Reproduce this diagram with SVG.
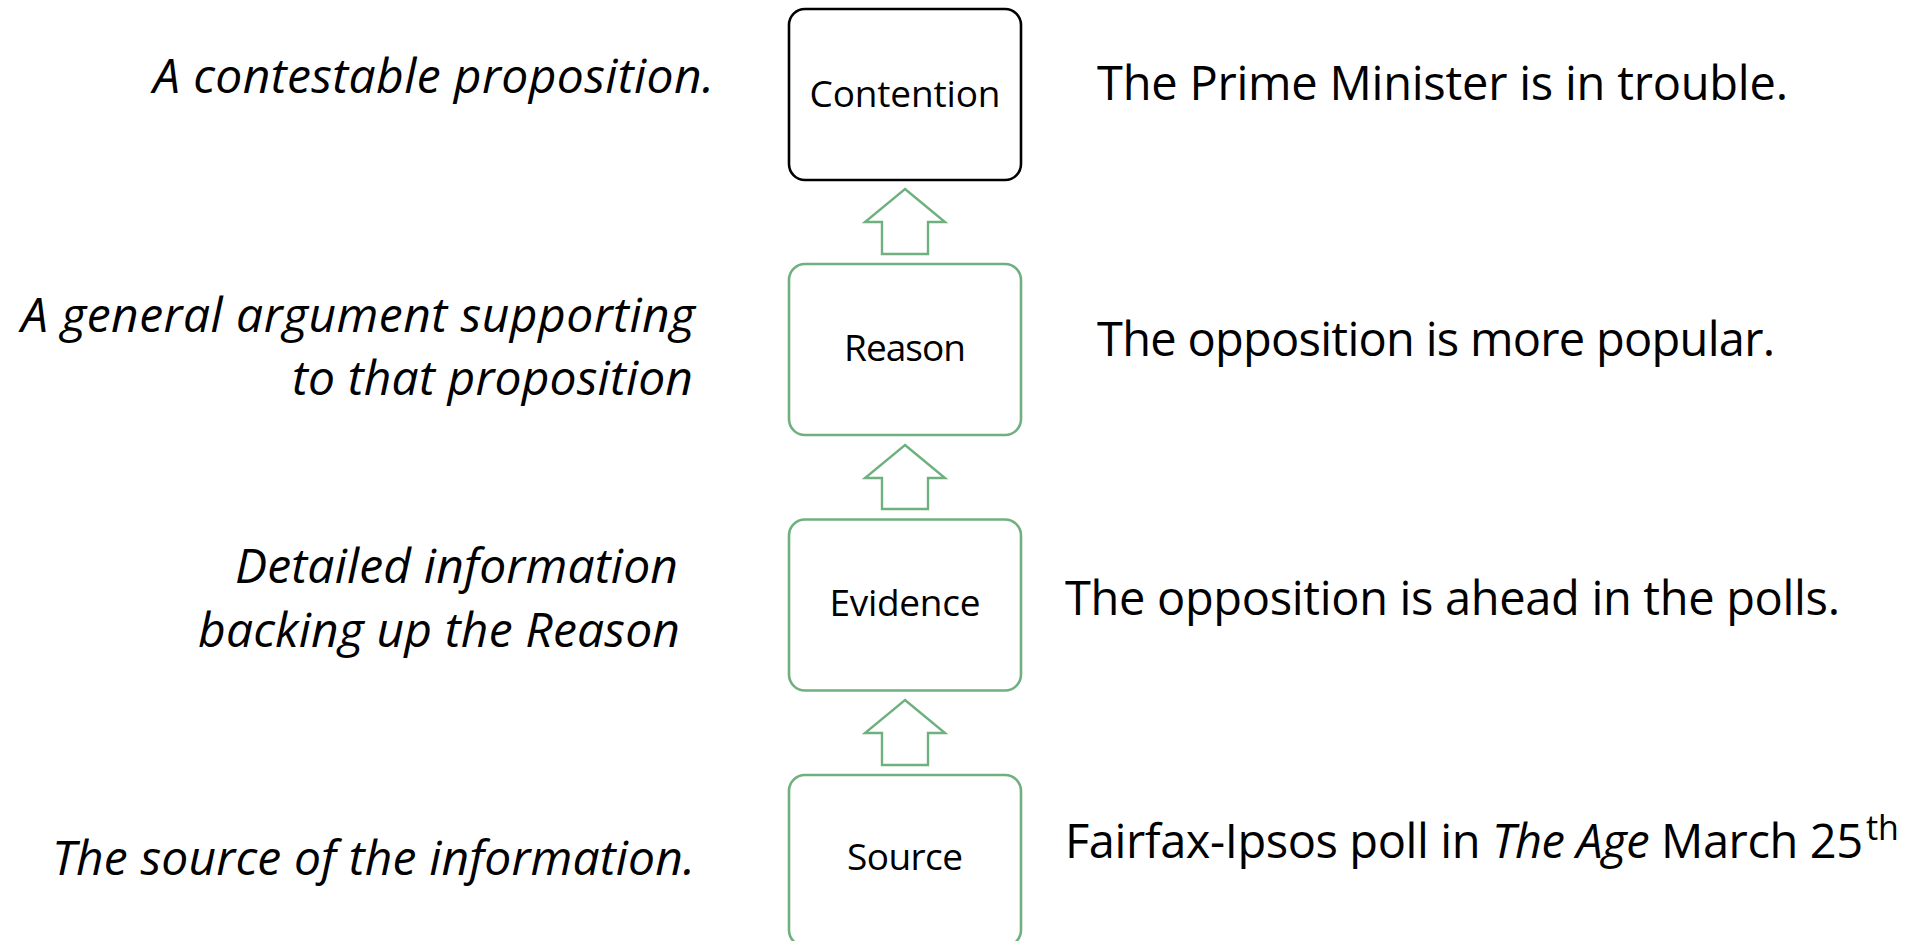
<svg xmlns="http://www.w3.org/2000/svg" width="1924" height="941" viewBox="0 0 1924 941">
<style>
.box{fill:#ffffff;stroke:#6fb07f;stroke-width:2.6}
.box.black{stroke:#000000}
.arrow{fill:#ffffff;stroke:#6fb07f;stroke-width:2.4;stroke-linejoin:miter}
.lbl{font-family:"Open Sans","Noto Sans",sans-serif;font-size:37px;fill:#000;text-anchor:middle}
.note{font-family:"Open Sans","Noto Sans",sans-serif;font-size:48px;font-style:italic;fill:#000;text-anchor:end}
.ex{font-family:"Open Sans","Noto Sans",sans-serif;font-size:47px;fill:#000}
.sup{font-family:"Open Sans","Noto Sans",sans-serif;font-size:34px;fill:#000}
</style>
<rect width="1924" height="941" fill="#ffffff"/>
<g id="connectors">
<path class="arrow" d="M905,189 L945,222 L928,222 L928,254 L882,254 L882,222 L865,222 Z"/>
<path class="arrow" d="M905,445 L945,478 L928,478 L928,509 L882,509 L882,478 L865,478 Z"/>
<path class="arrow" d="M905,700 L945,733 L928,733 L928,765 L882,765 L882,733 L865,733 Z"/>
</g>
<g id="contention">
<rect class="box black" x="789" y="9" width="232" height="171" rx="16"/>
<text class="lbl" x="905" y="107" textLength="191">Contention</text>
</g>
<g id="reason">
<rect class="box" x="789" y="264" width="232" height="171" rx="16"/>
<text class="lbl" x="905" y="361" textLength="122">Reason</text>
</g>
<g id="evidence">
<rect class="box" x="789" y="519.5" width="232" height="171" rx="16"/>
<text class="lbl" x="905" y="616" textLength="151">Evidence</text>
</g>
<g id="source">
<rect class="box" x="789" y="775" width="232" height="171" rx="16"/>
<text class="lbl" x="905" y="870" textLength="116">Source</text>
</g>
<g id="descriptions">
<text class="note" x="714" y="93" textLength="561">A contestable proposition.</text>
<text class="note" x="695" y="332" textLength="674">A general argument supporting</text>
<text class="note" x="693" y="395" textLength="401">to that proposition</text>
<text class="note" x="678" y="583" textLength="443">Detailed information</text>
<text class="note" x="680" y="647" textLength="482">backing up the Reason</text>
<text class="note" x="695" y="875" textLength="643">The source of the information.</text>
</g>
<g id="examples">
<text class="ex" x="1097" y="100" textLength="691">The Prime Minister is in trouble.</text>
<text class="ex" x="1097" y="356" textLength="678">The opposition is more popular.</text>
<text class="ex" x="1065" y="615" textLength="775">The opposition is ahead in the polls.</text>
<text class="ex" x="1065" y="858" textLength="798">Fairfax-Ipsos poll in <tspan font-style="italic">The Age</tspan> March 25</text>
<text class="sup" x="1866" y="840">th</text>
</g>
</svg>
